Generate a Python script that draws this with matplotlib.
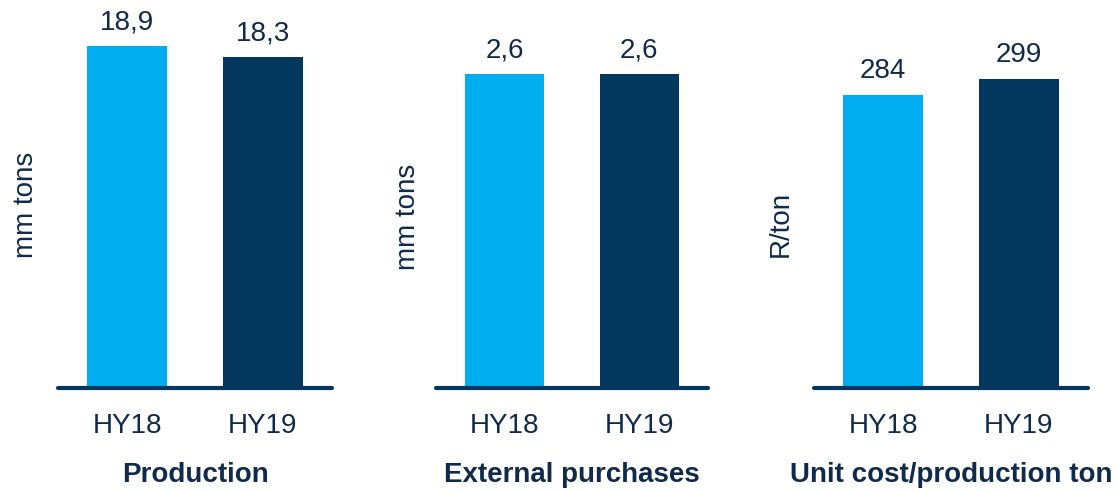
import matplotlib

matplotlib.use("Agg")

import matplotlib.pyplot as plt  # noqa: E402

plt.rcParams["font.family"] = ["Liberation Sans", "DejaVu Sans"]

periods = ["HY18", "HY19"]
production = [18.9, 18.3]
external_purchases = [2.6, 2.6]
unit_cost = [284, 299]

production_labels = ["18,9", "18,3"]
purchases_labels = ["2,6", "2,6"]
unit_cost_labels = ["284", "299"]

LIGHT = "#00AEEF"
DARK = "#03375E"
TEXT = "#0F2A4A"

W, H = 1117, 491
fig = plt.figure(figsize=(W / 100, H / 100), dpi=100)

# (left px, right px, ymax, values, labels, unit, title, unit label pos)
panels = [
    (58, 332, 20.89, production, production_labels, "mm tons", "Production", (26, 205)),
    (436, 708, 3.13, external_purchases, purchases_labels, "mm tons", "External purchases", (408, 217)),
    (814, 1088, 365.8, unit_cost, unit_cost_labels, "R/ton", "Unit cost/production ton", (781, 224)),
]

top_px, base_px = 10, 388

for left, right, ymax, values, labels, unit, title, (ux, uy) in panels:
    ax = fig.add_axes([left / W, 1 - base_px / H, (right - left) / W, (base_px - top_px) / H])
    x = range(len(periods))
    ax.bar(x, values, width=0.59, color=[LIGHT, DARK], zorder=2)
    ax.set_xlim(-0.51, 1.51)
    ax.set_ylim(0, ymax)
    for xi, v, lab in zip(x, values, labels):
        ax.annotate(lab, (xi, v), xytext=(0, 12), textcoords="offset points",
                    ha="center", va="baseline", fontsize=20, color=TEXT)
    ax.set_xticks(list(x))
    ax.set_xticklabels(periods, fontsize=20, color=TEXT)
    ax.tick_params(axis="x", length=0, pad=18)
    ax.set_yticks([])
    for side in ("top", "right", "left"):
        ax.spines[side].set_visible(False)
    ax.spines["bottom"].set_color(DARK)
    ax.spines["bottom"].set_linewidth(3)
    ax.spines["bottom"].set_capstyle("round")
    ax.text(0.5, -0.25, title, transform=ax.transAxes, ha="center", va="baseline",
            fontsize=20, fontweight="bold", color=TEXT)
    fig.text(ux / W, 1 - uy / H, unit, rotation=90, ha="center", va="center",
             fontsize=20, color=TEXT)

fig.savefig("out.png", dpi=100)
